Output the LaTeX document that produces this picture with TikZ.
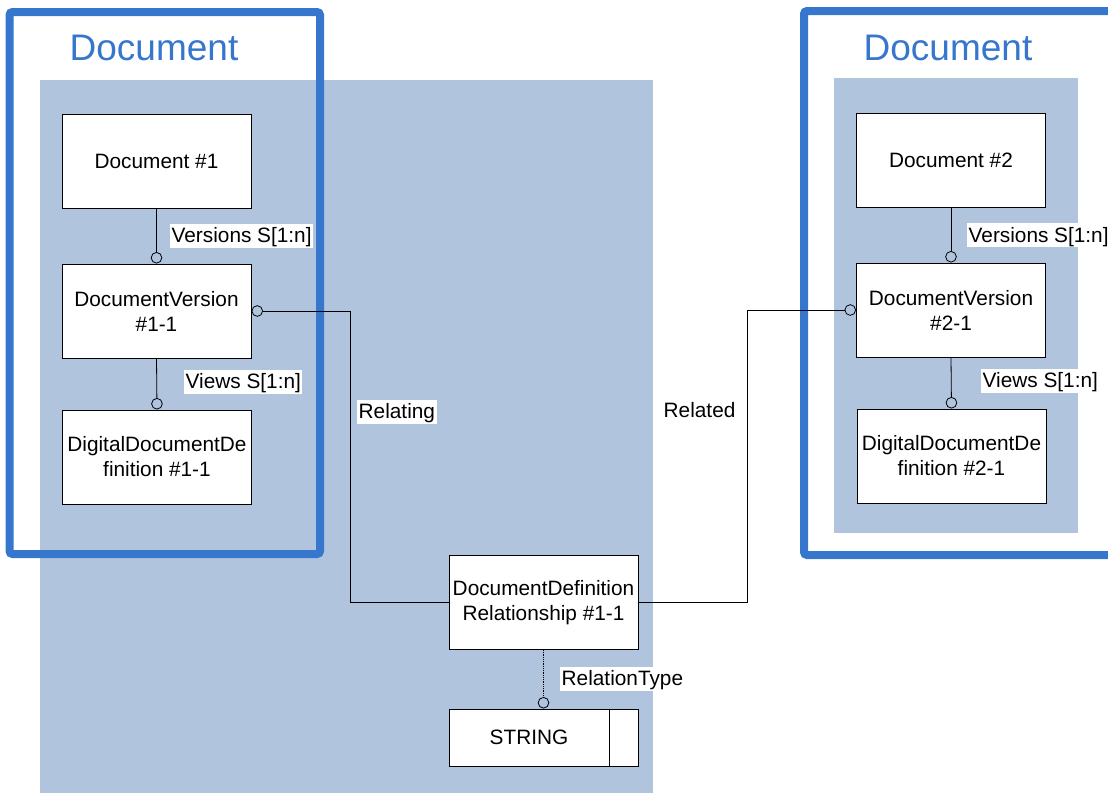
\documentclass[tikz,border=0pt]{standalone}
\usepackage{fontspec}
\setmainfont{Liberation Sans}
\usetikzlibrary{arrows.meta}
\definecolor{frameblue}{RGB}{54,118,205}
\definecolor{areagray}{RGB}{176,196,222}
\tikzset{
  entity/.style={draw,fill=white,line width=1pt,minimum width=189,minimum height=94,inner sep=0pt,
    align=center,font=\fontsize{20.8}{25}\selectfont},
  frame/.style={draw=frameblue,line width=8pt,rounded corners=3pt},
  title/.style={text=frameblue,anchor=base,inner sep=0pt,font=\fontsize{37}{44}\selectfont},
  lab/.style={fill=white,anchor=west,inner xsep=1.5pt,inner ysep=0pt,text height=19pt,text depth=5pt,
    font=\fontsize{20.8}{25}\selectfont},
  link/.style={line width=.8pt,-{Circle[open,length=11.5pt,width=11.5pt]}},
  revlink/.style={line width=.8pt,{Circle[open,length=11.5pt,width=11.5pt]}-}
}
\begin{document}
\begin{tikzpicture}[x=1pt,y=-1pt]
  \useasboundingbox (0,0) rectangle (1108,793);
  \clip (0,0) rectangle (1108,793);
  % grey areas and the two blue frames
  \fill[areagray] (40,80) rectangle (653,793);
  \fill[areagray] (834,78) rectangle (1078,533);
  \draw[frame] (9.5,12) rectangle (320,554);
  \draw[frame] (804,11) rectangle (1130,555);
  \node[title] (titleA) at (154,60) {Document};
  \node[title] (titleB) at (948,60) {Document};
  % entities
  \node[entity] (doc1) at (156.5,161) {Document \#1};
  \node[entity] (ver1) at (156.5,311) {DocumentVersion\\\#1-1};
  \node[entity] (def1) at (157,457) {DigitalDocumentDe\\finition \#1-1};
  \node[entity] (doc2) at (951,160) {Document \#2};
  \node[entity] (ver2) at (951,310) {DocumentVersion\\\#2-1};
  \node[entity] (def2) at (951.5,456) {DigitalDocumentDe\\finition \#2-1};
  \node[entity] (rel) at (543.5,602.5) {DocumentDefinition\\Relationship \#1-1};
  \node[entity,minimum height=57] (str) at (543.5,737.5) {\hspace*{-29pt}STRING};
  \draw[line width=1pt] ([xshift=-29]str.north east) -- ([xshift=-29]str.south east);
  \coordinate (bendA) at (350,602.5);
  \coordinate (bendB) at (747,310);
  % connectors
  \draw[link] (doc1.south) -- (ver1.north);
  \draw[link] (ver1.south) -- (def1.north);
  \draw[link] (doc2.south) -- (ver2.north);
  \draw[link] (ver2.south) -- (def2.north);
  \draw[revlink] (ver1.east) -| (bendA) -- (rel.west);
  \draw[link] (rel.east) -| (bendB) -- (ver2.west);
  \draw[link,densely dotted] (rel.south) -- (str.north);
  % labels
  \node[lab] (lverA) at (170,235.5) {Versions S[1:n]};
  \node[lab] (lviewA) at (184,381.5) {Views S[1:n]};
  \node[lab] (lrelating) at (357,411.5) {Relating};
  \node[lab] (lrelated) at (662,410.5) {Related};
  \node[lab] (ltype) at (560,678.5) {RelationType};
  \node[lab] (lverB) at (967,235) {Versions S[1:n]};
  \node[lab] (lviewB) at (981,380.5) {Views S[1:n]};
\end{tikzpicture}
\end{document}
